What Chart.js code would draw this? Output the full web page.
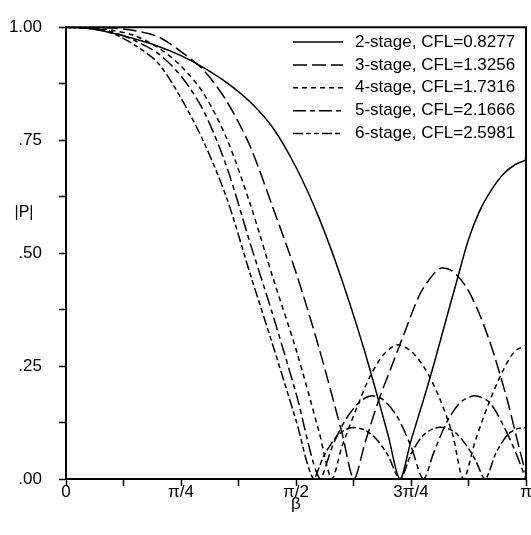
<!DOCTYPE html>
<html>
<head>
<meta charset="utf-8">
<script src="https://cdn.jsdelivr.net/npm/chart.js@4.4.1/dist/chart.umd.min.js"></script>
<style>
  html, body { margin: 0; padding: 0; background: #fff; }
  #wrap { width: 531px; height: 535px; }
</style>
</head>
<body>
<div id="wrap"><canvas id="chart" width="531" height="535"></canvas></div>
<script>
// --- Data: beta as a fraction of pi, |P| ---
const beta2 = [0, 0.05, 0.10, 0.15, 0.20, 0.25, 0.30, 0.35, 0.40, 0.45, 0.50, 0.55, 0.60, 0.65, 0.70, 0.726, 0.75, 0.775, 0.80, 0.825, 0.85, 0.875, 0.90, 0.925, 0.95, 0.975, 1.0];
const p2 = [1.0, 0.997, 0.987, 0.974, 0.958, 0.937, 0.910, 0.877, 0.835, 0.777, 0.690, 0.578, 0.440, 0.280, 0.098, 0.0, 0.085, 0.168, 0.255, 0.348, 0.440, 0.530, 0.595, 0.640, 0.674, 0.695, 0.706];

const beta3 = [0, 0.05, 0.10, 0.15, 0.20, 0.25, 0.30, 0.35, 0.40, 0.45, 0.50, 0.55, 0.60, 0.626, 0.65, 0.68, 0.71, 0.74, 0.77, 0.80, 0.817, 0.84, 0.87, 0.90, 0.93, 0.96, 0.98, 1.0];
const p3 = [1.0, 1.0, 0.998, 0.992, 0.979, 0.946, 0.904, 0.835, 0.737, 0.600, 0.457, 0.290, 0.102, 0.0, 0.080, 0.175, 0.255, 0.335, 0.410, 0.455, 0.467, 0.460, 0.425, 0.362, 0.277, 0.172, 0.090, 0.010];

const beta4 = [0, 0.05, 0.10, 0.15, 0.20, 0.25, 0.30, 0.35, 0.40, 0.45, 0.50, 0.55, 0.578, 0.60, 0.63, 0.66, 0.69, 0.72, 0.75, 0.78, 0.81, 0.84, 0.864, 0.89, 0.92, 0.95, 0.975, 1.0];
const p4 = [1.0, 0.999, 0.993, 0.981, 0.955, 0.914, 0.852, 0.752, 0.610, 0.445, 0.287, 0.105, 0.0, 0.072, 0.152, 0.225, 0.275, 0.297, 0.283, 0.245, 0.184, 0.100, 0.0, 0.085, 0.170, 0.240, 0.282, 0.296];

const beta5 = [0, 0.05, 0.10, 0.15, 0.20, 0.25, 0.30, 0.35, 0.40, 0.45, 0.50, 0.552, 0.58, 0.61, 0.64, 0.665, 0.69, 0.72, 0.75, 0.777, 0.80, 0.83, 0.86, 0.889, 0.92, 0.95, 0.975, 1.0];
const p5 = [1.0, 0.999, 0.990, 0.970, 0.942, 0.892, 0.813, 0.689, 0.523, 0.362, 0.190, 0.0, 0.075, 0.135, 0.172, 0.184, 0.175, 0.138, 0.072, 0.0, 0.060, 0.130, 0.172, 0.184, 0.170, 0.120, 0.065, 0.0];

const beta6 = [0, 0.05, 0.10, 0.15, 0.20, 0.25, 0.30, 0.35, 0.40, 0.45, 0.50, 0.538, 0.56, 0.585, 0.605, 0.625, 0.65, 0.675, 0.70, 0.726, 0.75, 0.775, 0.80, 0.82, 0.845, 0.87, 0.89, 0.911, 0.935, 0.96, 0.98, 1.0];
const p6 = [1.0, 0.997, 0.987, 0.960, 0.921, 0.843, 0.745, 0.620, 0.455, 0.295, 0.130, 0.0, 0.050, 0.090, 0.108, 0.114, 0.108, 0.088, 0.052, 0.0, 0.055, 0.095, 0.112, 0.114, 0.104, 0.075, 0.042, 0.0, 0.058, 0.098, 0.111, 0.114];

const seriesLabels = ['2-stage, CFL=0.8277', '3-stage, CFL=1.3256', '4-stage, CFL=1.7316', '5-stage, CFL=2.1666', '6-stage, CFL=2.5981'];

// tick labels
const xTickPos = [0, 0.25, 0.5, 0.75, 1];
const xTickText = ['0', 'π/4', 'π/2', '3π/4', 'π'];
const yTickPos = [0, 0.25, 0.5, 0.75, 1];
const yTickText = ['.00', '.25', '.50', '.75', '1.00'];

const FONT = '"Liberation Sans", Arial, Helvetica, sans-serif';
const dashes = [[], [14, 5], [5, 4], [13, 4, 5, 4], [10, 3, 5, 3, 5, 3]];

const toPoints = (xs, ys) => xs.map((x, i) => ({ x, y: ys[i] }));
const series = [[beta2, p2], [beta3, p3], [beta4, p4], [beta5, p5], [beta6, p6]];

const tickLabel = (v, pos, text) => {
  const i = pos.findIndex(p => Math.abs(p - v) < 1e-6);
  return i >= 0 ? text[i] : '';
};

// --- frame (top/right) + |P| label ---
const framePlugin = {
  id: 'frame',
  afterDraw(chart) {
    const { ctx, chartArea: a } = chart;
    ctx.save();
    ctx.strokeStyle = '#000';
    ctx.lineWidth = 2;
    ctx.beginPath();
    ctx.moveTo(a.left, a.top);
    ctx.lineTo(a.right, a.top);
    ctx.lineTo(a.right, a.bottom);
    ctx.stroke();
    ctx.fillStyle = '#000';
    ctx.font = '16px ' + FONT;
    ctx.textAlign = 'center';
    ctx.textBaseline = 'middle';
    ctx.fillText('|P|', 24, 213);
    ctx.restore();
  }
};

// --- legend inside the plot, top right ---
const legendPlugin = {
  id: 'stageLegend',
  afterDraw(chart) {
    const ctx = chart.ctx;
    ctx.save();
    ctx.font = '17px ' + FONT;
    ctx.textBaseline = 'middle';
    ctx.textAlign = 'left';
    chart.data.datasets.forEach((ds, i) => {
      const y = 42 + i * 22.9;
      ctx.strokeStyle = '#000';
      ctx.lineWidth = 1.5;
      ctx.setLineDash(ds.borderDash || []);
      ctx.beginPath();
      ctx.moveTo(293, y);
      ctx.lineTo(343, y);
      ctx.stroke();
      ctx.setLineDash([]);
      ctx.fillStyle = '#000';
      ctx.fillText(ds.label, 355, y);
    });
    ctx.restore();
  }
};

new Chart(document.getElementById('chart').getContext('2d'), {
  type: 'line',
  data: {
    datasets: series.map((s, i) => ({
      label: seriesLabels[i],
      data: toPoints(s[0], s[1]),
      borderColor: '#000',
      borderWidth: 1.5,
      borderDash: dashes[i],
      pointRadius: 0,
      tension: 0.3,
      fill: false
    }))
  },
  options: {
    responsive: false,
    animation: false,
    layout: { padding: { left: 0, right: 5, top: 17, bottom: 0 } },
    plugins: { legend: { display: false }, tooltip: { enabled: false } },
    scales: {
      x: {
        type: 'linear',
        min: 0,
        max: 1,
        afterFit: (scale) => { scale.height = 56; },
        ticks: {
          stepSize: 0.125,
          autoSkip: false,
          maxRotation: 0,
          padding: -2,
          color: '#000',
          font: { family: FONT, size: 17, lineHeight: 1 },
          callback: (v) => tickLabel(v, xTickPos, xTickText)
        },
        grid: { drawOnChartArea: false, tickLength: 7, tickWidth: 1.5, tickColor: '#000' },
        border: { display: true, color: '#000', width: 2 },
        title: {
          display: true,
          text: 'β',
          color: '#000',
          font: { family: FONT, size: 17, lineHeight: 1 },
          padding: { top: 0, bottom: 22 }
        }
      },
      y: {
        type: 'linear',
        min: 0,
        max: 1,
        afterFit: (scale) => { scale.width = 66; },
        ticks: {
          stepSize: 0.125,
          autoSkip: false,
          padding: 17,
          color: '#000',
          font: { family: FONT, size: 17 },
          callback: (v) => tickLabel(v, yTickPos, yTickText)
        },
        grid: { drawOnChartArea: false, tickLength: 7, tickWidth: 1.5, tickColor: '#000' },
        border: { display: true, color: '#000', width: 2 }
      }
    }
  },
  plugins: [framePlugin, legendPlugin]
});
</script>
</body>
</html>
